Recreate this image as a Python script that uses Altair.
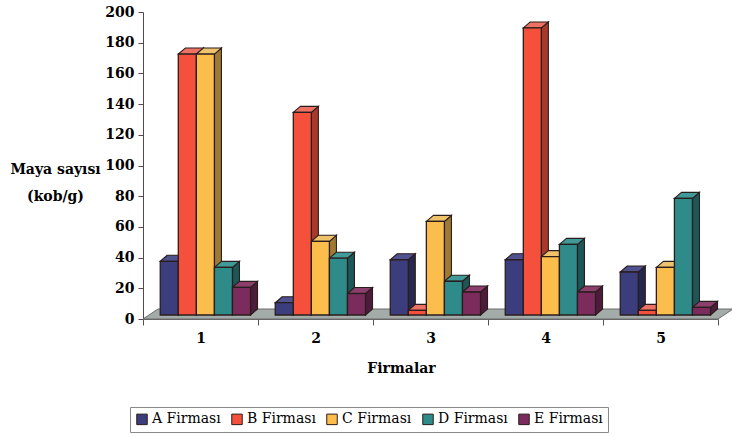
import altair as alt
import pandas as pd

# --- data -------------------------------------------------------------
firms = ["A Firması", "B Firması", "C Firması", "D Firması", "E Firması"]
groups = [1, 2, 3, 4, 5]
firm_a = [35, 8, 36, 36, 28]
firm_b = [170, 132, 3, 187, 3]
firm_c = [170, 48, 61, 38, 31]
firm_d = [31, 37, 22, 46, 76]
firm_e = [18, 14, 15, 15, 5]
y_ticks = list(range(0, 201, 20))

# --- styling ----------------------------------------------------------
front_colors = ["#3c3d7c", "#f4503b", "#fbbd4b", "#2f8a8a", "#7b2c5c"]
side_colors = ["#26274f", "#a83a2c", "#9f7a35", "#1d5757", "#4d1c3a"]
top_colors = ["#50518f", "#ee7263", "#efc36c", "#3f9a98", "#8c3f6c"]
FONT = "DejaVu Serif"
EDGE = "#2a1d1d"

W, H = 575, 307                 # plot area in px
X_DOMAIN = [0.5, 5.5]
Y_DOMAIN = [0, 200]
BAR_W = 0.157                   # bar width in group units
GROUP_START = -0.35             # left edge of first bar relative to group centre
DEPTH_PX = (7, 6)               # 3-D extrusion of each column (right, up)
FLOOR_PX = (15, 10)             # depth of the floor slab
LIFT = -4                       # columns stand slightly behind the floor edge

ux = (X_DOMAIN[1] - X_DOMAIN[0]) / W
uy = (Y_DOMAIN[1] - Y_DOMAIN[0]) / H
ddx, ddy = DEPTH_PX[0] * ux, DEPTH_PX[1] * uy
fdx, fdy = FLOOR_PX[0] * ux, FLOOR_PX[1] * uy

values = [firm_a, firm_b, firm_c, firm_d, firm_e]

front_rows, side_rows, top_rows = [], [], []
for s, (name, vals) in enumerate(zip(firms, values)):
    for g, v in zip(groups, vals):
        left = g + GROUP_START + s * BAR_W
        right = left + BAR_W
        bar = f"{name}-{g}"
        front_rows.append(dict(firm=name, group=g, left=left, right=right, value=v))
        for t in (0, 1):
            side_rows.append(dict(bar=bar, fill=side_colors[s],
                                  x=right + t * ddx, y=v + t * ddy, y2=t * ddy))
            top_rows.append(dict(bar=bar, fill=top_colors[s],
                                 y=v + t * ddy, x=left + t * ddx, x2=right + t * ddx))

front_df = pd.DataFrame(front_rows)
side_df = pd.DataFrame(side_rows)
top_df = pd.DataFrame(top_rows)
floor_df = pd.DataFrame({
    "y": [0, fdy],
    "x": [X_DOMAIN[0], X_DOMAIN[0] + fdx],
    "x2": [X_DOMAIN[1], X_DOMAIN[1] + fdx],
})

xs = alt.Scale(domain=X_DOMAIN, nice=False, zero=False)
ys = alt.Scale(domain=Y_DOMAIN, nice=False)

# the same axis objects are handed to every layer so they merge into one
x_axis = alt.Axis(
    title="Firmalar",
    values=[0.5, 1, 1.5, 2, 2.5, 3, 3.5, 4, 4.5, 5, 5.5],
    labelExpr="datum.value % 1 === 0 ? format(datum.value, 'd') : ''",
    tickOpacity={"condition": {"test": "datum.value % 1 === 0", "value": 0}, "value": 1},
    tickSize=6, labelPadding=6, labelFlush=False, labelOverlap=False,
    domainColor="#666", tickColor="#555",
    titleX=258, titleY=49, titleBaseline="middle", titleAlign="center",
)
y_axis = alt.Axis(
    title=["Maya  sayısı", "(kob/g)"],
    values=y_ticks, tickSize=5, labelPadding=4,
    domainColor="#5a4650", tickColor="#5a4650",
    titleAngle=0, titleX=-88, titleY=157, titleBaseline="middle", titleAlign="center",
    titleLineHeight=27,
)

floor = alt.Chart(floor_df).mark_area(
    orient="horizontal", fill="#a4aca9", stroke="#6b6b6b", strokeWidth=1
).encode(
    y=alt.Y("y:Q", scale=ys, axis=y_axis, stack=None),
    x=alt.X("x:Q", scale=xs, axis=x_axis, stack=None),
    x2="x2:Q",
)

sides = alt.Chart(side_df).mark_area(
    stroke=EDGE, strokeWidth=1.1, yOffset=LIFT, y2Offset=LIFT
).encode(
    x=alt.X("x:Q", scale=xs, axis=x_axis, stack=None),
    y=alt.Y("y:Q", scale=ys, axis=y_axis, stack=None),
    y2="y2:Q",
    fill=alt.Fill("fill:N", scale=None),
    detail="bar:N",
)

tops = alt.Chart(top_df).mark_area(
    orient="horizontal", stroke=EDGE, strokeWidth=1.1, yOffset=LIFT
).encode(
    y=alt.Y("y:Q", scale=ys, axis=y_axis, stack=None),
    x=alt.X("x:Q", scale=xs, axis=x_axis, stack=None),
    x2="x2:Q",
    fill=alt.Fill("fill:N", scale=None),
    detail="bar:N",
)

fronts = alt.Chart(front_df).mark_rect(
    stroke=EDGE, strokeWidth=1.3, yOffset=LIFT, y2Offset=LIFT
).encode(
    x=alt.X("left:Q", scale=xs, axis=x_axis),
    x2="right:Q",
    y=alt.Y("value:Q", scale=ys, axis=y_axis),
    y2=alt.Y2(datum=0),
    fill=alt.Fill(
        "firm:N",
        scale=alt.Scale(domain=firms, range=front_colors),
        legend=alt.Legend(
            title=None, orient="none", direction="horizontal",
            legendX=-13, legendY=395,
            symbolType="square", symbolSize=110, symbolStrokeColor="#222",
            symbolStrokeWidth=1, symbolOpacity=1, labelOffset=3,
            columnPadding=8, padding=5,
            strokeColor="#8a8a8a", fillColor="white",
        ),
    ),
)

chart = alt.layer(floor, sides, tops, fronts).properties(
    width=W, height=H,
    background="white",
    autosize=alt.AutoSizeParams(type="none"),
    padding={"left": 143, "top": 12, "right": 14, "bottom": 118},
).configure(
    font=FONT,
).configure_axis(
    grid=False,
    labelFont=FONT, labelFontSize=14, labelFontWeight="bold", labelColor="black",
    titleFont=FONT, titleFontSize=14, titleFontWeight="bold", titleColor="black",
).configure_legend(
    labelFont=FONT, labelFontSize=14, labelColor="black",
).configure_view(stroke="transparent")

chart.save("out.html", embed_options={"renderer": "svg", "actions": False})
